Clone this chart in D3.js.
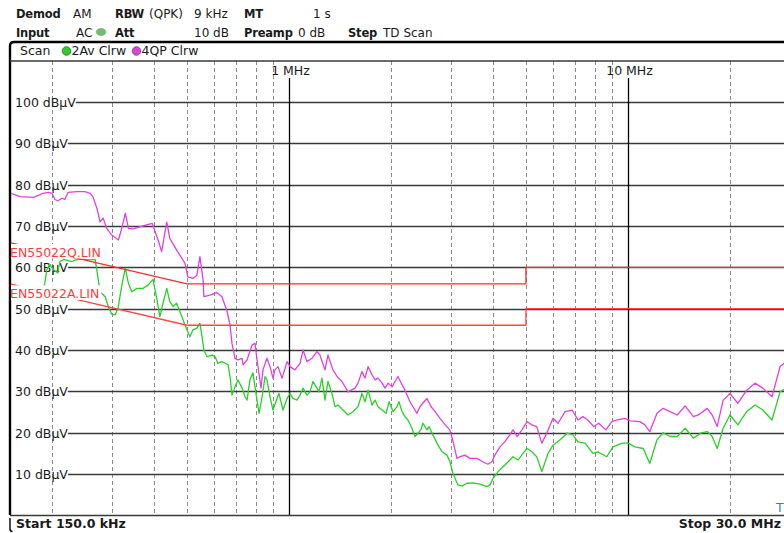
<!DOCTYPE html>
<html>
<head>
<meta charset="utf-8">
<script src="https://cdn.jsdelivr.net/npm/d3@7"></script>
<style>
  body { margin: 0; background: #fff; }
  svg { display: block; }
  text { font-family: "DejaVu Sans", Verdana, sans-serif; font-size: 12.5px; fill: #1a1a1a; }
  text.h { font-size: 12px; }
  text.h.b { font-size: 11.5px; letter-spacing: -0.2px; }
  .b { font-weight: bold; }
</style>
</head>
<body>
<svg id="chart" width="784" height="533"></svg>
<script>
// ---- measurement settings shown in the header ----
const settingsRow1 = [["Demod", true], ["AM", false], ["RBW", true], ["(QPK)", false], ["9 kHz", false], ["MT", true], ["1 s", false]];
const settingsRow2 = [["Input", true], ["AC", false], ["Att", true], ["10 dB", false], ["Preamp", true], ["0 dB", false], ["Step", true], ["TD Scan", false]];
const traceLegend = ["Scan", "2Av Clrw", "4QP Clrw"];

// ---- axes ----
const freqStart = 0.15, freqStop = 30;          // MHz
const levelMin = 0, levelMax = 110;             // dBµV
const levelTicks = [10, 20, 30, 40, 50, 60, 70, 80, 90, 100];
const decadeTicks = [1, 10];
const decadeLabels = ["1 MHz", "10 MHz"];
const minorTicks = [0.2, 0.3, 0.4, 0.5, 0.6, 0.7, 0.8, 0.9, 2, 3, 4, 5, 6, 7, 8, 9, 20];
const startLabel = "Start 150.0 kHz";
const stopLabel = "Stop 30.0 MHz";

// ---- limit lines (MHz, dBµV) ----
const limitQP = [[0.15, 66], [0.5, 56], [5, 56], [5, 60], [30, 60]];
const limitAV = [[0.15, 56], [0.5, 46], [5, 46], [5, 50], [30, 50]];
const limitNames = ["EN55022Q.LIN", "EN55022A.LIN"];

// ---- trace 4: quasi-peak (MHz, dBµV) ----
const qpTrace = [
[0.150,78.0],[0.161,77.1],[0.176,76.9],[0.184,77.5],[0.188,77.9],[0.195,78.1],[0.200,77.9],[0.204,76.4],[0.208,76.1],[0.214,76.7],[0.218,76.4],[0.223,78.1],[0.237,78.3],[0.250,78.3],[0.259,77.9],[0.264,77.1],[0.272,73.9],[0.277,71.0],[0.283,71.9],[0.290,69.4],[0.300,67.8],[0.314,66.6],[0.322,69.8],[0.329,73.1],[0.336,69.4],[0.347,69.3],[0.371,70.0],[0.395,70.6],[0.411,66.6],[0.421,63.8],[0.430,68.2],[0.436,70.9],[0.445,67.0],[0.466,64.2],[0.493,61.0],[0.503,57.7],[0.521,57.3],[0.535,58.1],[0.546,62.6],[0.558,56.9],[0.561,52.9],[0.585,53.3],[0.613,53.9],[0.634,52.9],[0.656,49.5],[0.670,46.0],[0.679,41.6],[0.693,38.0],[0.707,37.6],[0.727,38.0],[0.732,36.4],[0.752,37.6],[0.778,41.2],[0.794,41.6],[0.805,37.6],[0.827,30.8],[0.838,35.2],[0.861,38.0],[0.879,36.0],[0.897,33.2],[0.909,35.2],[0.928,36.0],[0.954,33.2],[0.987,37.2],[1.007,36.0],[1.041,35.2],[1.078,36.8],[1.100,40.0],[1.130,37.2],[1.169,38.0],[1.209,39.6],[1.234,38.8],[1.277,35.2],[1.303,38.8],[1.348,35.2],[1.386,33.6],[1.433,32.4],[1.493,29.9],[1.566,30.8],[1.598,32.0],[1.642,34.8],[1.676,33.2],[1.711,36.0],[1.758,34.0],[1.794,32.8],[1.831,33.2],[1.882,32.0],[1.921,30.8],[1.961,32.0],[2.014,31.1],[2.055,32.4],[2.097,33.6],[2.155,31.6],[2.199,30.3],[2.274,27.5],[2.321,26.3],[2.385,24.7],[2.434,26.3],[2.502,27.5],[2.554,28.3],[2.625,26.3],[2.699,25.1],[2.79,23.5],[2.89,21.9],[2.98,20.7],[3.04,18.3],[3.13,13.8],[3.19,14.2],[3.30,14.6],[3.42,13.8],[3.58,13.8],[3.73,13.0],[3.86,12.4],[3.97,13.0],[4.05,14.6],[4.19,16.6],[4.33,17.8],[4.48,19.5],[4.58,20.7],[4.71,19.1],[4.87,20.7],[5.04,22.7],[5.21,21.9],[5.38,21.5],[5.57,17.5],[5.76,19.9],[6.01,23.5],[6.22,22.3],[6.52,25.1],[6.84,25.5],[7.12,23.1],[7.36,23.9],[7.61,23.1],[7.93,21.5],[8.20,22.3],[8.60,20.7],[8.97,22.7],[9.28,23.1],[9.80,23.5],[10.14,22.9],[10.85,22.7],[11.22,21.9],[11.60,20.3],[12.18,24.7],[12.69,25.9],[13.31,25.1],[13.97,24.3],[14.75,26.5],[15.59,23.9],[16.13,24.3],[17.13,25.9],[17.72,24.3],[18.33,21.5],[19.09,27.9],[20.0,29.5],[21.1,27.1],[22.4,30.3],[23.7,32.0],[25.0,30.8],[26.6,28.7],[28.1,36.0],[28.9,36.8],[30.0,37.5]
];

// ---- trace 2: average (MHz, dBµV) ----
const avTrace = [
[0.150,54.0],[0.165,54.5],[0.180,54.0],[0.190,55.7],[0.193,59.4],[0.197,60.7],[0.202,59.4],[0.208,58.6],[0.209,59.8],[0.211,61.4],[0.216,61.9],[0.229,61.4],[0.235,61.8],[0.242,62.0],[0.259,61.8],[0.268,61.9],[0.272,58.6],[0.277,54.1],[0.287,52.9],[0.293,50.5],[0.300,48.7],[0.307,48.5],[0.313,50.1],[0.322,56.1],[0.329,59.8],[0.336,56.1],[0.344,54.1],[0.356,54.9],[0.371,54.9],[0.384,55.7],[0.397,57.1],[0.408,52.1],[0.416,48.1],[0.425,51.3],[0.436,54.9],[0.445,51.7],[0.455,50.5],[0.466,51.3],[0.483,48.1],[0.493,46.1],[0.503,44.4],[0.510,43.2],[0.521,44.9],[0.535,45.3],[0.546,46.5],[0.554,43.2],[0.561,40.0],[0.573,38.4],[0.593,38.8],[0.605,38.4],[0.617,36.8],[0.634,37.2],[0.648,36.8],[0.661,36.4],[0.670,33.6],[0.679,29.1],[0.693,31.1],[0.707,32.8],[0.727,30.8],[0.742,28.7],[0.752,27.9],[0.767,32.8],[0.783,34.5],[0.799,29.5],[0.816,24.7],[0.833,28.7],[0.850,33.6],[0.861,32.8],[0.879,28.7],[0.897,25.5],[0.922,28.3],[0.934,29.5],[0.960,25.5],[0.987,28.3],[1.007,29.5],[1.027,28.3],[1.056,27.9],[1.078,29.1],[1.100,30.8],[1.130,29.1],[1.153,29.9],[1.177,32.4],[1.209,30.8],[1.226,29.9],[1.251,33.2],[1.277,27.9],[1.303,32.4],[1.339,29.5],[1.367,26.3],[1.395,26.7],[1.443,25.5],[1.493,24.3],[1.545,25.1],[1.598,26.3],[1.642,29.5],[1.676,27.5],[1.711,30.3],[1.758,26.7],[1.794,27.9],[1.831,26.3],[1.882,25.5],[1.934,24.7],[1.974,27.5],[2.028,25.1],[2.083,26.3],[2.111,27.5],[2.155,25.1],[2.199,23.9],[2.244,23.1],[2.305,21.1],[2.352,19.1],[2.401,19.9],[2.450,20.7],[2.484,22.3],[2.554,20.7],[2.589,21.5],[2.643,19.9],[2.733,17.5],[2.827,15.4],[2.924,14.6],[2.984,13.0],[3.045,10.2],[3.150,7.4],[3.236,7.1],[3.347,7.8],[3.491,7.9],[3.66,7.6],[3.84,7.0],[3.92,7.4],[4.00,9.0],[4.14,10.6],[4.28,11.8],[4.43,13.0],[4.58,14.2],[4.74,13.4],[4.90,15.0],[5.04,16.2],[5.21,15.4],[5.38,14.2],[5.57,10.6],[5.81,15.0],[6.01,17.0],[6.31,18.3],[6.61,19.9],[6.88,19.5],[7.12,17.8],[7.47,17.5],[7.88,15.0],[8.15,15.4],[8.66,14.2],[9.03,16.6],[9.61,17.5],[10.0,17.5],[10.49,16.6],[11.09,16.2],[11.60,12.6],[12.18,18.3],[12.69,20.0],[13.31,19.1],[13.97,19.1],[14.75,21.1],[15.59,18.7],[16.37,19.9],[17.13,20.3],[17.72,19.1],[18.33,16.2],[19.09,21.1],[20.0,24.3],[21.1,21.9],[22.4,25.1],[23.7,26.7],[25.0,25.5],[26.6,23.1],[28.1,29.9],[28.9,30.5],[30.0,31.0]
];

// ---- layout ----
const svg = d3.select("#chart");
const plot = { left: 10, right: 784, top: 61, bottom: 515.5 };
const x = d3.scaleLog().domain([freqStart, freqStop]).range([9.7, 789.7]);
const y = d3.scaleLinear().domain([levelMin, levelMax]).range([515.5, 60.5]);

const colors = { av: "#28d028", qp: "#e040e0", limit: "#ff2a2a", limitLabel: "#ff3b3b", grid: "#3a3a3a", dash: "#8a8a8a" };

// header rows
function headerRow(items, xs, base) {
  items.forEach((d, i) => {
    svg.append("text").attr("x", xs[i]).attr("y", base)
      .attr("class", d[1] ? "h b" : "h").text(d[0]);
  });
}
headerRow(settingsRow1, [16, 73, 115, 149, 194, 244, 313], 18);
headerRow(settingsRow2, [16, 76, 115, 194, 244, 298, 348, 383], 36.5);
// input coupling indicator
svg.append("ellipse").attr("cx", 101).attr("cy", 32).attr("rx", 4.8).attr("ry", 3.5)
  .attr("fill", "#66c266").attr("stroke", "#9a9a9a").attr("stroke-width", 0.8);

// outer frame with rounded top-left corner
svg.append("path")
  .attr("d", `M10,515 L10,46 Q10,42 14,42 L784,42`)
  .attr("fill", "none").attr("stroke", "#000").attr("stroke-width", 2.4);
svg.append("path")
  .attr("d", `M10,518 L10,529 Q10,531.5 12.5,531.5`)
  .attr("fill", "none").attr("stroke", "#000").attr("stroke-width", 1.4);

// legend row
svg.append("text").attr("x", 20).attr("y", 55).text(traceLegend[0]);
svg.append("circle").attr("cx", 66.5).attr("cy", 51).attr("r", 4.3).attr("fill", colors.av).attr("stroke", "#555").attr("stroke-width", 0.8);
svg.append("text").attr("x", 71.5).attr("y", 55).text(traceLegend[1]);
svg.append("circle").attr("cx", 136.5).attr("cy", 51).attr("r", 4.3).attr("fill", colors.qp).attr("stroke", "#555").attr("stroke-width", 0.8);
svg.append("text").attr("x", 141.5).attr("y", 55).text(traceLegend[2]);

// clip for plot contents
svg.append("defs").append("clipPath").attr("id", "plotClip")
  .append("rect").attr("x", plot.left + 1).attr("y", plot.top).attr("width", plot.right - plot.left).attr("height", plot.bottom - plot.top);

const g = svg.append("g");

// minor frequency grid (dashed)
g.selectAll("line.minor").data(minorTicks).join("line")
  .attr("x1", d => Math.round(x(d)) + 0.5).attr("x2", d => Math.round(x(d)) + 0.5)
  .attr("y1", plot.top).attr("y2", plot.bottom)
  .attr("stroke", colors.dash).attr("stroke-width", 1).attr("stroke-dasharray", "4,3");

// level grid with labels
levelTicks.forEach(v => {
  const yy = Math.round(y(v)) + 0.5;
  const t = g.append("text").attr("x", 15).attr("y", yy + 4.5).text(`${v} dBµV`);
  const end = 15 + t.node().getComputedTextLength();
  g.append("line").attr("x1", end).attr("x2", plot.right).attr("y1", yy).attr("y2", yy)
    .attr("stroke", colors.grid).attr("stroke-width", 1.3);
});

// decade lines and labels
decadeTicks.forEach((f, i) => {
  const xx = Math.round(x(f)) + 0.5;
  g.append("line").attr("x1", xx).attr("x2", xx).attr("y1", 78).attr("y2", plot.bottom)
    .attr("stroke", "#000").attr("stroke-width", 1.3);
  g.append("text").attr("x", xx + 1).attr("y", 75).attr("text-anchor", "middle").text(decadeLabels[i]);
});

// plot borders
g.append("line").attr("x1", plot.left).attr("x2", plot.right).attr("y1", plot.top).attr("y2", plot.top)
  .attr("stroke", colors.grid).attr("stroke-width", 1.3);
g.append("line").attr("x1", plot.left).attr("x2", plot.right).attr("y1", plot.bottom).attr("y2", plot.bottom)
  .attr("stroke", colors.grid).attr("stroke-width", 1.3);

// traces
const line = d3.line().x(d => x(d[0])).y(d => y(d[1]));
const traces = svg.append("g").attr("clip-path", "url(#plotClip)");
traces.append("path").datum(avTrace).attr("d", line)
  .attr("fill", "none").attr("stroke", colors.av).attr("stroke-width", 1.3).attr("stroke-linejoin", "round");
traces.append("path").datum(qpTrace).attr("d", line)
  .attr("fill", "none").attr("stroke", colors.qp).attr("stroke-width", 1.3).attr("stroke-linejoin", "round");

// limit lines
[limitQP, limitAV].forEach((lim, i) => {
  traces.append("path").datum(lim).attr("d", line)
    .attr("fill", "none").attr("stroke", i === 0 ? colors.limit : "#ff4646").attr("stroke-width", 1.3);
});

// limit line names on a white patch at the start of each line
[limitQP, limitAV].forEach((lim, i) => {
  const y0 = y(lim[0][1]);
  const lbl = svg.append("g");
  const t = lbl.append("text").attr("x", 10).attr("y", y0 + 14)
    .style("fill", colors.limitLabel).text(limitNames[i]);
  const w = t.node().getComputedTextLength();
  lbl.insert("rect", "text").attr("x", 11).attr("y", y0 + 1.5).attr("width", w + 1).attr("height", 14.5)
    .attr("fill", "#fff");
});

// footer
svg.append("text").attr("x", 16).attr("y", 528).attr("class", "b").text(startLabel);
svg.append("text").attr("x", 781).attr("y", 528).attr("class", "b").attr("text-anchor", "end").text(stopLabel);
svg.append("text").attr("x", 776).attr("y", 512).style("fill", "#3f8391").text("T");
</script>
</body>
</html>
